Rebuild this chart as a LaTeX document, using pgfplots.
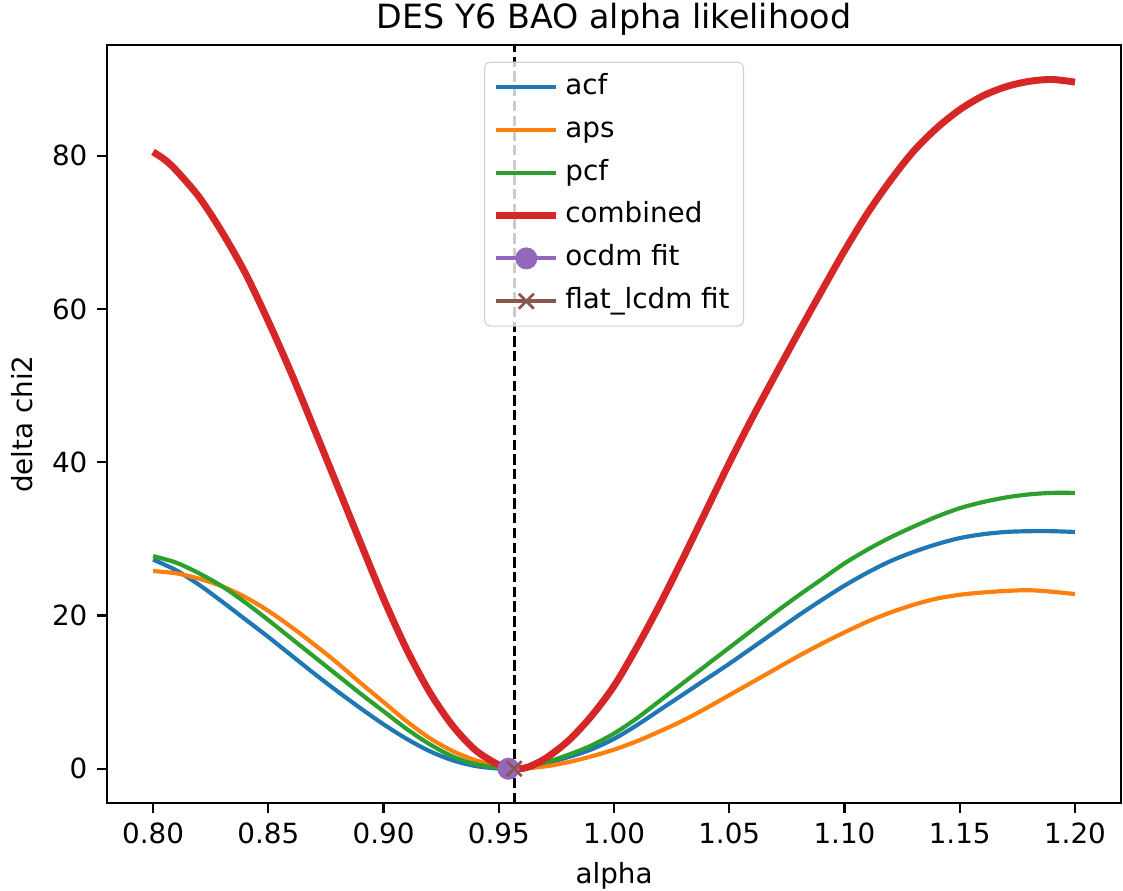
\documentclass[border=0pt]{standalone}
\usepackage{pgfplots}
\pgfplotsset{compat=1.18}
\usepackage{fontspec}
\setmainfont{DejaVu Sans}
\definecolor{tabblue}{HTML}{1F77B4}
\definecolor{taborange}{HTML}{FF7F0E}
\definecolor{tabgreen}{HTML}{2CA02C}
\definecolor{tabred}{HTML}{D62728}
\definecolor{tabpurple}{HTML}{9467BD}
\definecolor{tabbrown}{HTML}{8C564B}
\begin{document}
\begin{tikzpicture}
\begin{axis}[
  name=ax,
  scale only axis,
  width=365pt, height=272.9pt,
  xmin=0.78, xmax=1.22,
  ymin=-4.4975, ymax=94.45,
  xtick={0.80,0.85,0.90,0.95,1.00,1.05,1.10,1.15,1.20},
  ytick={0,20,40,60,80},
  tick pos=left,
  tick align=outside,
  major tick length=3.5pt,
  every tick/.style={black, line width=0.8pt},
  axis line style={line width=0.8pt},
  font=\fontsize{10}{12}\selectfont,
  x tick label style={/pgf/number format/.cd, fixed, fixed zerofill, precision=2, assume math mode=true},
  y tick label style={/pgf/number format/.cd, assume math mode=true},
  xlabel={alpha},
  ylabel={delta chi2},
  title={DES Y6 BAO alpha likelihood},
  every axis title shift=0pt,
  title style={font=\fontsize{12}{14}\selectfont, at={(0.5,1)}, anchor=base, yshift=6.1pt},
  legend image code/.code={\draw[mark repeat=2,mark phase=2,#1] plot coordinates {(0pt,0pt) (10.8pt,0pt) (21.6pt,0pt)};},
  legend cell align=left,
  legend style={at={(0.5,0.978)}, anchor=north, draw=black!18, rounded corners=2pt,
    fill=white, fill opacity=0.8, draw opacity=1, text opacity=1,
    font=\fontsize{10}{12}\selectfont,
    inner xsep=3pt, inner ysep=2pt, row sep=1.4pt,
    nodes={inner sep=2pt, text height=7.6pt, text depth=2.4pt}},
  legend image post style={opacity=1},
]
\addplot[tabblue, line width=1.5pt, smooth] coordinates {
(0.80,27.3) (0.81,25.9) (0.82,24.0) (0.83,21.8) (0.84,19.5) (0.85,17.2)
(0.86,14.8) (0.87,12.4) (0.88,10.1) (0.89,7.9) (0.90,5.8) (0.91,3.9)
(0.92,2.3) (0.93,1.1) (0.94,0.35) (0.951,0.0) (0.96,0.15) (0.97,0.7)
(0.98,1.5) (0.99,2.5) (1.00,3.9) (1.01,5.7) (1.02,7.7) (1.03,9.7)
(1.04,11.7) (1.05,13.7) (1.06,15.8) (1.07,17.9) (1.08,20.0) (1.09,22.0)
(1.10,23.9) (1.11,25.6) (1.12,27.1) (1.13,28.3) (1.14,29.3) (1.15,30.1)
(1.16,30.6) (1.17,30.9) (1.18,31.0) (1.19,31.0) (1.20,30.9)};
\addlegendentry{acf}
\addplot[taborange, line width=1.5pt, smooth] coordinates {
(0.80,25.8) (0.81,25.5) (0.82,24.8) (0.83,23.8) (0.84,22.4) (0.85,20.6)
(0.86,18.5) (0.87,16.2) (0.88,13.8) (0.89,11.2) (0.90,8.7) (0.91,6.2)
(0.92,4.0) (0.93,2.3) (0.94,1.1) (0.95,0.3) (0.958,0.0) (0.97,0.3)
(0.98,0.85) (0.99,1.6) (1.00,2.5) (1.01,3.6) (1.02,4.9) (1.03,6.3)
(1.04,7.9) (1.05,9.6) (1.06,11.3) (1.07,13.0) (1.08,14.7) (1.09,16.3)
(1.10,17.8) (1.11,19.2) (1.12,20.4) (1.13,21.4) (1.14,22.2) (1.15,22.7)
(1.16,23.0) (1.17,23.2) (1.18,23.3) (1.19,23.1) (1.20,22.8)};
\addlegendentry{aps}
\addplot[tabgreen, line width=1.5pt, smooth] coordinates {
(0.80,27.75) (0.81,26.9) (0.82,25.5) (0.83,23.8) (0.84,21.7) (0.85,19.4)
(0.86,17.0) (0.87,14.6) (0.88,12.2) (0.89,9.8) (0.90,7.5) (0.91,5.2)
(0.92,3.2) (0.93,1.6) (0.94,0.6) (0.953,0.0) (0.96,0.2) (0.97,0.8)
(0.98,1.8) (0.99,3.0) (1.00,4.6) (1.01,6.6) (1.02,8.9) (1.03,11.2)
(1.04,13.5) (1.05,15.8) (1.06,18.1) (1.07,20.4) (1.08,22.6) (1.09,24.7)
(1.10,26.8) (1.11,28.6) (1.12,30.2) (1.13,31.6) (1.14,32.9) (1.15,34.0)
(1.16,34.8) (1.17,35.4) (1.18,35.8) (1.19,36.0) (1.20,36.0)};
\addlegendentry{pcf}
\addplot[tabred, line width=2.5pt, smooth] coordinates {
(0.80,80.5) (0.805,79.5) (0.81,78.1) (0.82,74.6) (0.83,70.0) (0.84,64.7) (0.85,58.4)
(0.86,51.6) (0.87,44.3) (0.88,36.9) (0.89,29.5) (0.90,22.2) (0.91,15.6)
(0.92,10.0) (0.93,5.6) (0.94,2.4) (0.95,0.5) (0.956,0.0) (0.962,0.15)
(0.97,1.3) (0.98,3.6) (0.99,6.8) (1.00,10.8) (1.01,15.9) (1.02,21.5)
(1.03,27.5) (1.04,33.7) (1.05,39.9) (1.06,45.8) (1.07,51.4) (1.08,56.9)
(1.09,62.3) (1.10,67.6) (1.11,72.5) (1.12,76.8) (1.13,80.6) (1.14,83.6)
(1.15,86.0) (1.16,87.8) (1.17,89.0) (1.18,89.7) (1.19,89.95) (1.20,89.6)};
\addlegendentry{combined}
\addplot[forget plot, black, line width=1pt, dash pattern=on 3.7pt off 1.6pt] coordinates {(0.9567,-4.4975) (0.9567,94.45)};
\addplot[tabpurple, line width=1.5pt, mark=*, mark size=3.2pt, mark options={solid}] coordinates {(0.9542,0)};
\addlegendentry{ocdm fit}
\addplot[tabbrown, line width=1.5pt, mark=x, mark size=3.8pt, mark options={line width=1pt}] coordinates {(0.9567,0)};
\addlegendentry{flat\_lcdm fit}
\end{axis}
\pgfresetboundingbox
\path ([xshift=-38.5pt, yshift=-31.3pt]ax.south west) rectangle ([xshift=0.7pt, yshift=16.2pt]ax.north east);
\end{tikzpicture}
\end{document}
